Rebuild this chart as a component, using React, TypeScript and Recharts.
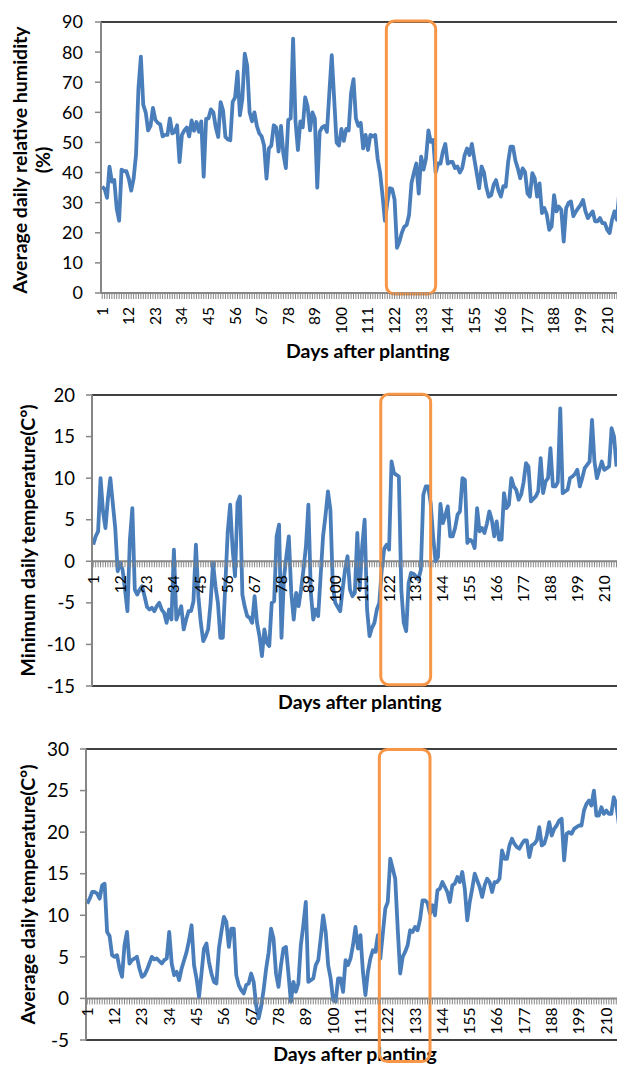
import React from 'react';
import { LineChart, Line, XAxis, YAxis, ReferenceLine, ReferenceArea } from 'recharts';

// daily values (one row = 11 days, matching the axis labels)
const humidity = [
  35.3, 34.5, 31.6, 42, 37, 37.5, 28, 24, 41, 40.5, 40.5,
  38, 34, 38, 46, 68, 78.5, 62.5, 60, 54, 55.5, 61.5,
  57.5, 56.5, 56, 52, 52.5, 52.5, 58, 53, 53.5, 55.7, 43.5,
  52.5, 54, 55, 52, 57.3, 53.9, 56.8, 53.5, 57, 38.6, 57.8,
  58, 61, 60, 55, 51.8, 63.4, 60.7, 51.8, 51, 50.7, 63.5,
  65, 73.5, 59, 64.5, 79.5, 75.5, 60, 57, 60, 55.5, 53,
  52, 49, 38, 48, 49, 55.7, 55, 47, 55.5, 46, 41.5,
  57.5, 58, 84.5, 57, 47.5, 57, 55, 65, 62, 54, 60,
  58, 35, 53.5, 55, 55.5, 53.5, 66.5, 79, 64.5, 50, 49,
  54.5, 50.5, 54.5, 54, 66.5, 71, 58, 55.5, 56.5, 48, 52.5,
  47.5, 52.5, 52, 52.5, 44.5, 40, 32.5, 24, 30, 34.8, 34.5,
  31, 15, 17, 20, 22, 22.6, 26, 36.5, 40, 43, 33,
  45.3, 41, 44.6, 54, 50.2, 50.8, 40, 43, 43, 47, 49.5,
  43, 43.5, 43.5, 41.5, 42, 40, 41.5, 45.8, 48, 45.8, 49.5,
  44.5, 39.8, 34.8, 42, 40, 35, 32, 32.5, 36, 37.5, 34,
  32, 35.5, 35.3, 43.5, 48.6, 48.6, 44, 41.4, 38.1, 41.4, 40.2,
  33.1, 32, 39.8, 38.1, 32, 36.4, 26.5, 28.2, 26, 21, 22.1,
  32.5, 27.1, 28.7, 27.6, 17.1, 28.2, 29.9, 30.4, 25.5, 27, 28.2,
  29.3, 30.9, 27.1, 24.9, 26, 27.1, 23.8, 23.8, 24.9, 23.2, 23.2,
  21, 19.9, 24.3, 27.1, 24.3, 33.7,
];

const minTemperature = [
  2, 3, 3.6, 10, 6, 4, 7.5, 10, 7, 4, -1.2,
  -0.2, -1, -3.4, -6, 2.6, 6.4, -3.4, -4, -3.4, -3, -4.2,
  -5.5, -5.8, -5.6, -6, -5.4, -5, -5.8, -6.2, -7.4, -5.8, -7,
  1.4, -7, -6.2, -5.4, -8.2, -7, -6, -6, -4.8, 2, -4.2,
  -7.4, -9.6, -9, -8.2, -5, -0.2, -3, -5, -9.2, -9.2, -3,
  3.5, 6.8, 1.5, -1.8, 7, 7.8, -4, -5.5, -6.6, -6.8, -7.4,
  -4.2, -7.4, -9, -11.4, -8.2, -9.8, -10.2, -5, -4.8, 3, 4.4,
  -9.2, -2, 0.6, 3, -3.8, -7, -3.8, -5.4, -3.4, -1, 1.8,
  6.8, -3.8, -7, -5.8, -6.6, -1.8, 3, 5.5, 8.4, 6.2, -3,
  -5, -5.5, -6, -3.4, -1, 0.6, -3.4, -4.2, -3.8, 3.4, -3.4,
  1.8, 5, -5.8, -9, -8, -7.4, -5.8, -5, -1, 1.5, 2,
  1.4, 12, 10.6, 10.4, 10.2, -3.4, -7.4, -8.4, -2.6, -1.4, -1.5,
  -1.8, -2.2, -1, 8, 9, 9, 7, 3, 0, 0.5, 6.9,
  4.6, 5.5, 6.6, 3, 3, 4, 5.6, 6, 10, 9.8, 2.2,
  2.6, 2.4, 1.6, 6.4, 3.6, 4, 3.4, 4.5, 6, 5, 3,
  4.8, 2.6, 2.6, 8.2, 6.4, 6.8, 10, 9, 8.6, 7.4, 8,
  9.5, 11.8, 11.4, 7.2, 7.5, 7.8, 8.4, 12.4, 8.2, 9.6, 10,
  13.6, 9, 9, 9.5, 18.4, 8.2, 8.4, 8.6, 10, 10.2, 10.5,
  11, 9, 10, 11.2, 11.6, 12, 17, 12, 10, 11, 12,
  11, 11.2, 11.4, 16, 15, 11.4,
];

const avgTemperature = [
  11.4, 12, 12.8, 12.8, 12.6, 12, 13.6, 13.8, 8, 7.5, 5.2,
  5, 5.2, 3.6, 2.6, 6.4, 8, 4.2, 4.6, 4.8, 5, 3.6,
  2.6, 2.8, 3.4, 4.2, 5, 4.7, 4.8, 4.5, 4.2, 4.6, 4.8,
  8, 4.2, 2.8, 3.2, 2.2, 3.6, 4.6, 5.6, 7, 8.8, 4,
  2.4, 0.2, 3, 6, 6.6, 4.4, 3, 2, 1.8, 6, 8,
  9.8, 9.2, 6.2, 8.4, 8.4, 2.8, 1.6, 1, 0.6, 1.6, 1.8,
  3, 2, -0.8, -2.4, -1, 1, 3.5, 5.5, 8.4, 7.2, 3,
  1.4, 4, 6, 6.2, 3, -0.4, 2, 0.8, 1.8, 6.4, 8.8,
  11.6, 2, 2.2, 2.4, 4, 4.6, 7.2, 10, 8, 4, 2.4,
  -0.2, -0.4, 2.4, 2.4, 0.8, 4.6, 4, 4.8, 6.4, 8.6, 6,
  7.6, 3.2, 0.4, 3.2, 4.8, 5.8, 5.6, 7.6, 4.8, 7.8, 10.8,
  11.6, 16.8, 15.6, 14.4, 8.4, 3, 5, 5.6, 6.4, 8.2, 8,
  8.6, 8.2, 9.5, 11.8, 11.8, 11.5, 10.2, 11.2, 10, 13, 13.2,
  14, 13.4, 12.8, 11.6, 13.6, 13.8, 14.6, 14, 15.2, 13.2, 9.4,
  11.6, 13.2, 15, 14.2, 13.4, 12.2, 13.6, 14.4, 14, 12.8, 14,
  14, 14.4, 17.8, 16.8, 16.8, 18.4, 19.2, 18.6, 18.2, 18, 18.6,
  19, 19, 17, 18.4, 18.6, 19, 20.6, 18.4, 18.6, 19.6, 21.2,
  19.6, 20.4, 20.8, 21.4, 21.6, 16.6, 19.8, 20, 19.8, 20.4, 20.6,
  20.8, 20.8, 22.6, 23.4, 23.8, 23.2, 25, 22, 22, 23, 22.2,
  22.6, 22.2, 22.2, 24.2, 23.4, 21,
];

const days = humidity.map((_, i) => i + 1);
const labelDays = [1, 12, 23, 34, 45, 56, 67, 78, 89, 100, 111, 122, 133, 144, 155, 166, 177, 188, 199, 210];

const humidityTicks = [0, 10, 20, 30, 40, 50, 60, 70, 80, 90];
const minTempTicks = [-15, -10, -5, 0, 5, 10, 15, 20];
const avgTempTicks = [-5, 0, 5, 10, 15, 20, 25, 30];

// days framed by the orange box
const highlightDays = [118.6, 139];

const BLUE = '#4A7EBB';
const ORANGE = '#F79646';
const AXIS_GREY = '#868686';
const FONT = 'Lato, "Open Sans", sans-serif';
const CHART_WIDTH = 625;

const DayTick = (props: any) => {
  const { x, y, payload, zeroShift, labelGap } = props;
  const axisY = y - zeroShift;
  const day = payload.value;
  return (
    <g>
      <line x1={x} x2={x} y1={axisY} y2={axisY + 6} stroke={AXIS_GREY} strokeWidth={1} />
      {labelDays.includes(day) && (
        <text
          transform={`translate(${x}, ${axisY + labelGap}) rotate(-90)`}
          textAnchor="end"
          dy="0.35em"
          fontSize={15.5}
          fontFamily={FONT}
          fill="#000"
        >
          {day}
        </text>
      )}
    </g>
  );
};

const XTitle = ({ viewBox, dx, dy }: any) => (
  <text
    x={viewBox.x + viewBox.width / 2 + dx}
    y={viewBox.y + dy}
    textAnchor="middle"
    fontSize={19.5}
    fontWeight="bold"
    fontFamily={FONT}
    fill="#000"
  >
    Days after planting
  </text>
);

const YTitle = ({ viewBox, lines, baseX, dy }: any) => (
  <text
    transform={`translate(${baseX}, ${viewBox.y + viewBox.height / 2 + dy}) rotate(-90)`}
    textAnchor="middle"
    fontSize={19.5}
    fontWeight="bold"
    fontFamily={FONT}
    fill="#000"
  >
    {lines.map((line: string, i: number) => (
      <tspan key={i} x={0} dy={i === 0 ? 0 : 23}>
        {line}
      </tspan>
    ))}
  </text>
);

interface PanelProps {
  values: number[];
  ticks: number[];
  top: number;
  height: number;
  marginTop: number;
  marginRight: number;
  yAxisWidth: number;
  xAxisHeight: number;
  yTickFont: number;
  yTickMargin: number;
  labelGap: number;
  titleLines: string[];
  titleX: number;
  titleDy: number;
  xTitleDx: number;
  xTitleDy: number;
  boxRange: [number, number];
}

const Panel: React.FC<PanelProps> = (p) => {
  const data = days.map((day, i) => ({ day, value: p.values[i] }));
  const min = p.ticks[0];
  const max = p.ticks[p.ticks.length - 1];
  const plotHeight = p.height - p.marginTop - p.xAxisHeight;
  const zeroShift = (plotHeight * (0 - min)) / (max - min);

  return (
    <div style={{ position: 'absolute', left: 0, top: p.top }}>
      <LineChart
        width={CHART_WIDTH}
        height={p.height}
        data={data}
        margin={{ top: p.marginTop, right: p.marginRight, bottom: 0, left: 0 }}
      >
        <XAxis
          dataKey="day"
          type="number"
          domain={[0.5, days.length + 0.5]}
          ticks={days}
          interval={0}
          axisLine={false}
          tickLine={false}
          tickSize={0}
          tickMargin={0}
          height={p.xAxisHeight}
          tick={(t: any) => <DayTick {...t} zeroShift={zeroShift} labelGap={p.labelGap} />}
          label={(l: any) => <XTitle {...l} dx={p.xTitleDx} dy={p.xTitleDy} />}
        />
        <YAxis
          type="number"
          domain={[min, max]}
          ticks={p.ticks}
          interval={0}
          width={p.yAxisWidth}
          axisLine={{ stroke: AXIS_GREY, strokeWidth: 2 }}
          tickLine={{ stroke: AXIS_GREY, strokeWidth: 1.5 }}
          tickSize={6}
          tickMargin={p.yTickMargin}
          tick={{ fill: '#000', fontSize: p.yTickFont, fontFamily: FONT }}
          label={(l: any) => (
            <YTitle {...l} lines={p.titleLines} baseX={p.titleX} dy={p.titleDy} />
          )}
        />
        <ReferenceLine y={max} stroke="#000" strokeWidth={1.3} />
        {min < 0 && <ReferenceLine y={min} stroke="#000" strokeWidth={1.3} />}
        <ReferenceLine x={days.length + 0.5} stroke="#000" strokeWidth={1.3} />
        <ReferenceLine y={0} stroke={AXIS_GREY} strokeWidth={2} />
        <Line
          type="linear"
          dataKey="value"
          stroke={BLUE}
          strokeWidth={3.8}
          strokeLinejoin="round"
          dot={false}
          activeDot={false}
          isAnimationActive={false}
        />
        <ReferenceArea
          x1={highlightDays[0]}
          x2={highlightDays[1]}
          y1={p.boxRange[0]}
          y2={p.boxRange[1]}
          fill="none"
          fillOpacity={0}
          stroke={ORANGE}
          strokeWidth={3}
          strokeOpacity={1}
          radius={8}
          ifOverflow="visible"
          zIndex={900}
        />
      </LineChart>
    </div>
  );
};

export default function App() {
  return (
    <div
      style={{
        position: 'absolute',
        left: 0,
        top: 0,
        width: 617,
        height: 1065,
        overflow: 'hidden',
        background: '#fff',
      }}
    >
      <Panel
        values={humidity}
        ticks={humidityTicks}
        top={0}
        height={365}
        marginTop={22}
        marginRight={4.5}
        yAxisWidth={101}
        xAxisHeight={72}
        yTickFont={18}
        yTickMargin={12}
        labelGap={14}
        titleLines={['Average daily relative humidity', '(%)']}
        titleX={27}
        titleDy={2.5}
        xTitleDx={7}
        xTitleDy={65}
        boxRange={[-0.3, 90.3]}
      />
      <Panel
        values={minTemperature}
        ticks={minTempTicks}
        top={370}
        height={350}
        marginTop={25}
        marginRight={7.3}
        yAxisWidth={92}
        xAxisHeight={34}
        yTickFont={18.5}
        yTickMargin={11}
        labelGap={14}
        titleLines={['Minimum daily temperature(C°)']}
        titleX={35}
        titleDy={0}
        xTitleDx={5}
        xTitleDy={23}
        boxRange={[-14.85, 20.1]}
      />
      <Panel
        values={avgTemperature}
        ticks={avgTempTicks}
        top={725}
        height={340}
        marginTop={24}
        marginRight={5}
        yAxisWidth={86}
        xAxisHeight={25}
        yTickFont={19}
        yTickMargin={11}
        labelGap={9}
        titleLines={['Average daily temperature(C°)']}
        titleX={35}
        titleDy={0}
        xTitleDx={2}
        xTitleDy={21}
        boxRange={[-7.6, 29.95]}
      />
    </div>
  );
}
